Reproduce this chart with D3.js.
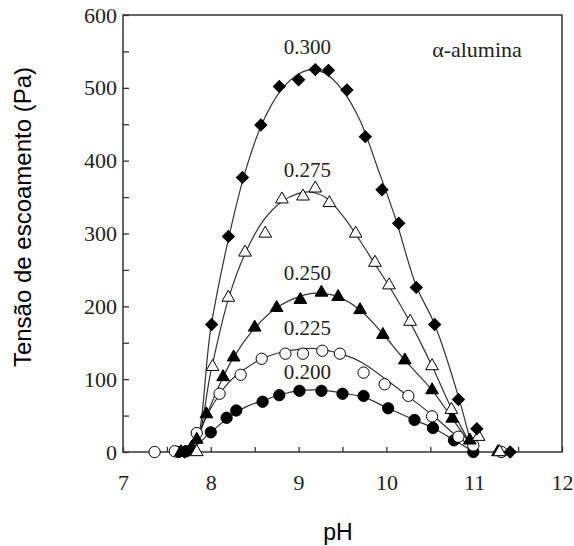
<html>
<head>
<meta charset="utf-8">
<title>Tensão de escoamento vs pH</title>
<script src="https://cdnjs.cloudflare.com/ajax/libs/d3/7.8.5/d3.min.js"></script>
<style>
  body { margin: 0; background: white; }
</style>
</head>
<body>
<script>
  var chartwidth = 574;
  var chartheight = 546;

  // measured points [pH, Pa]
  var pts200 = [[7.63,0],[7.72,1],[8.00,27],[8.18,47],[8.29,57],[8.59,69],[8.78,78],[9.01,84],[9.26,84],[9.50,80],[9.74,77],[10.02,60],[10.32,44],[10.53,33],[10.77,16],[10.99,0]];
  var pts225 = [[7.36,0],[7.59,1],[7.84,26],[8.10,80],[8.34,106],[8.58,128],[8.85,135],[9.05,135],[9.27,139],[9.47,135],[9.74,109],[9.98,93],[10.25,77],[10.52,49],[10.82,21],[10.99,9],[11.31,0]];
  var pts250 = [[7.66,0],[7.78,6],[7.84,17],[7.95,52],[8.14,103],[8.26,130],[8.50,171],[8.75,198],[9.02,209],[9.26,219],[9.45,213],[9.70,195],[9.96,161],[10.21,126],[10.52,85],[10.75,46],[10.95,16],[11.27,0]];
  var pts275 = [[7.84,0],[8.02,117],[8.20,212],[8.39,274],[8.62,300],[8.81,347],[9.05,351],[9.19,362],[9.35,342],[9.65,300],[9.87,260],[10.03,229],[10.27,179],[10.52,118],[10.74,58],[11.05,21],[11.29,0]];
  var pts300 = [[7.70,0],[8.01,175],[8.20,296],[8.36,377],[8.57,449],[8.78,502],[9.00,511],[9.19,525],[9.34,524],[9.55,497],[9.76,433],[9.95,360],[10.14,314],[10.34,226],[10.55,175],[10.82,72],[11.03,32],[11.41,0]];

  // fitted curves [pH, Pa]
  var fit200 = [[7.60,0],[7.75,2],[8.00,27],[8.20,47],[8.40,62],[8.60,71],[8.80,79],[9.00,84],[9.25,85],[9.50,81],[9.75,75],[10.00,61],[10.30,45],[10.55,32],[10.80,14],[10.97,2]];
  var fit225 = [[7.60,0],[7.75,3],[7.84,20],[8.00,60],[8.20,95],[8.40,115],[8.60,129],[8.80,137],[9.00,141],[9.20,142],[9.50,134],[9.72,123],[9.98,101],[10.23,78],[10.53,50],[10.80,22],[10.97,8]];
  var fit250 = [[7.60,0],[7.75,3],[7.84,17],[7.95,50],[8.14,103],[8.26,130],[8.50,170],[8.75,198],[9.00,213],[9.20,218],[9.45,213],[9.70,195],[9.96,162],[10.21,126],[10.52,85],[10.75,46],[10.97,8]];
  var fit275 = [[7.60,0],[7.75,2],[7.83,8],[8.00,110],[8.20,210],[8.40,275],[8.60,318],[8.80,343],[9.00,355],[9.12,357],[9.30,350],[9.50,325],[9.70,290],[9.87,258],[10.03,228],[10.27,178],[10.52,118],[10.74,60],[10.97,8]];
  var fit300 = [[7.60,0],[7.75,2],[7.83,10],[8.00,170],[8.20,292],[8.40,388],[8.60,455],[8.80,497],[9.00,519],[9.15,525],[9.30,520],[9.50,497],[9.70,455],[9.90,390],[10.10,322],[10.34,228],[10.55,175],[10.83,72],[10.97,8]];

  var seriesNames = ["0.200", "0.225", "0.250", "0.275", "0.300"];
  var labelPos = [[9.1, 100], [9.1, 161], [9.1, 236], [9.1, 378], [9.1, 546]];

  var xTicks = [7, 7.5, 8, 8.5, 9, 9.5, 10, 10.5, 11, 11.5, 12];
  var yTicks = [0, 50, 100, 150, 200, 250, 300, 350, 400, 450, 500, 550, 600];

  var svg = d3.select("body")
    .append("svg")
    .attr("width", chartwidth)
    .attr("height", chartheight);

  var xScale = d3.scaleLinear().domain([7, 12]).range([123, 562]);
  var yScale = d3.scaleLinear().domain([0, 600]).range([452, 15]);

  // frame
  svg.append("rect")
    .attr("x", xScale(7))
    .attr("y", yScale(600))
    .attr("width", xScale(12) - xScale(7))
    .attr("height", yScale(0) - yScale(600))
    .attr("fill", "none")
    .attr("stroke", "#333")
    .attr("stroke-width", 1.5);

  // x axis, ticks pointing in
  svg.append("g")
    .attr("transform", "translate(0," + yScale(0) + ")")
    .call(d3.axisBottom(xScale)
      .tickValues(xTicks)
      .tickSizeInner(-5)
      .tickSizeOuter(0)
      .tickPadding(22)
      .tickFormat(function(d) { return d % 1 === 0 ? d : ""; }));

  // y axis, ticks pointing in
  svg.append("g")
    .attr("transform", "translate(" + xScale(7) + ",0)")
    .call(d3.axisLeft(yScale)
      .tickValues(yTicks)
      .tickSizeInner(-6)
      .tickSizeOuter(0)
      .tickPadding(6)
      .tickFormat(function(d) { return d % 100 === 0 ? d : ""; }));

  svg.selectAll(".domain").remove();
  svg.selectAll(".tick line").attr("stroke", "#333").attr("stroke-width", 1.3);
  svg.selectAll(".tick text")
    .attr("fill", "#222")
    .style("font-family", "'Liberation Serif', 'Times New Roman', serif")
    .style("font-size", "22px");

  var line = d3.line()
    .x(function(d) { return xScale(d[0]); })
    .y(function(d) { return yScale(d[1]); })
    .curve(d3.curveCatmullRom);

  [fit200, fit225, fit250, fit275, fit300].forEach(function(f) {
    svg.append("path")
      .datum(f)
      .attr("d", line)
      .attr("fill", "none")
      .attr("stroke", "#333")
      .attr("stroke-width", 1.2);
  });

  function drawPoints(data, type, size, filled, rot) {
    svg.selectAll(null)
      .data(data)
      .enter()
      .append("path")
      .attr("d", d3.symbol().type(type).size(size))
      .attr("transform", function(d) {
        return "translate(" + xScale(d[0]) + "," + yScale(d[1]) + ") rotate(" + rot + ")";
      })
      .attr("fill", filled ? "#000" : "#fff")
      .attr("stroke", "#000")
      .attr("stroke-width", 1);
  }

  drawPoints(pts200, d3.symbolCircle, 100, true, 0);
  drawPoints(pts225, d3.symbolCircle, 100, false, 0);
  drawPoints(pts250, d3.symbolTriangle, 70, true, 0);
  drawPoints(pts275, d3.symbolTriangle, 70, false, 0);
  drawPoints(pts300, d3.symbolSquare, 72, true, 45);

  // series labels
  svg.selectAll(null)
    .data(seriesNames)
    .enter()
    .append("text")
    .attr("x", function(d, i) { return xScale(labelPos[i][0]); })
    .attr("y", function(d, i) { return yScale(labelPos[i][1]); })
    .attr("text-anchor", "middle")
    .style("font-family", "'Liberation Serif', 'Times New Roman', serif")
    .style("font-size", "21px")
    .attr("fill", "#222")
    .text(function(d) { return d; });

  svg.append("text")
    .attr("x", 477)
    .attr("y", 57)
    .attr("text-anchor", "middle")
    .style("font-family", "'Liberation Serif', 'Times New Roman', serif")
    .style("font-size", "22px")
    .attr("fill", "#222")
    .text("\u03b1-alumina");

  svg.append("text")
    .attr("x", 338)
    .attr("y", 540)
    .attr("text-anchor", "middle")
    .style("font-family", "'Liberation Sans', Arial, sans-serif")
    .style("font-size", "23px")
    .attr("fill", "#000")
    .text("pH");

  svg.append("text")
    .attr("transform", "rotate(-90)")
    .attr("x", -217)
    .attr("y", 31)
    .attr("text-anchor", "middle")
    .style("font-family", "'Liberation Sans', Arial, sans-serif")
    .style("font-size", "24px")
    .attr("fill", "#000")
    .text("Tensão de escoamento (Pa)");
</script>
</body>
</html>
